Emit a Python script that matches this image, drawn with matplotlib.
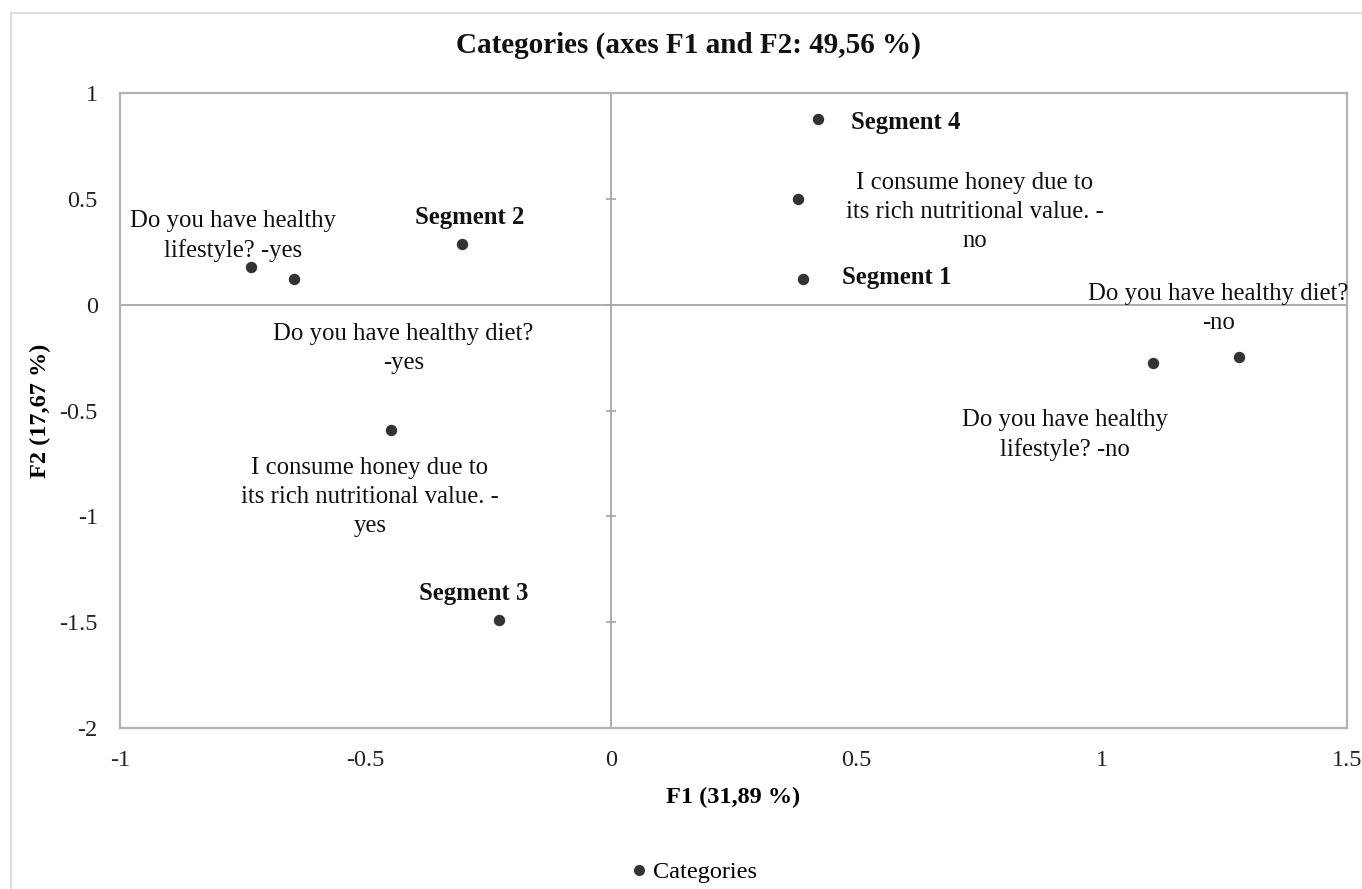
import matplotlib
matplotlib.use("Agg")
import matplotlib.pyplot as plt
from matplotlib.lines import Line2D

plt.rcParams['font.family'] = ['Liberation Serif', 'DejaVu Serif']

# ---- data ----
labels = [
    "Segment 4",
    "I consume honey due to\nits rich nutritional value. -\nno",
    "Segment 1",
    "Do you have healthy\nlifestyle? -no",
    "Do you have healthy diet?\n-no",
    "Do you have healthy\nlifestyle? -yes",
    "Do you have healthy diet?\n-yes",
    "Segment 2",
    "I consume honey due to\nits rich nutritional value. -\nyes",
    "Segment 3",
]
f1 = [0.422, 0.381, 0.391, 1.104, 1.279, -0.733, -0.645, -0.303, -0.448, -0.228]
f2 = [0.876, 0.498, 0.120, -0.277, -0.248, 0.177, 0.120, 0.286, -0.593, -1.490]
is_segment = [True, False, True, False, False, False, False, True, False, True]

x_ticks = [-1, -0.5, 0, 0.5, 1, 1.5]
y_ticks = [-2, -1.5, -1, -0.5, 0, 0.5, 1]
x_tick_labels = ["-1", "-0.5", "0", "0.5", "1", "1.5"]
y_tick_labels = ["-2", "-1.5", "-1", "-0.5", "0", "0.5", "1"]

title = "Categories (axes F1 and F2: 49,56 %)"
xlabel = "F1 (31,89 %)"
ylabel = "F2 (17,67 %)"
legend_label = "Categories"

# label offsets in pixels (dx, dy), horizontal alignment
offsets = [
    (33, -3, 'left'),
    (177, -13, 'center'),
    (39, 2, 'left'),
    (-88, -72, 'center'),
    (-20, 49, 'center'),
    (-18, 31, 'center'),
    (109, -69, 'center'),
    (8, 27, 'center'),
    (-21, -67, 'center'),
    (-25, 27, 'center'),
]

W, H = 1362, 889
fig = plt.figure(figsize=(W / 100, H / 100), dpi=100)
ax = fig.add_axes([120 / W, 1 - 728 / H, (1347 - 120) / W, (728 - 93) / H])

frame_col = '#b3b3b3'
zero_col = '#a6a6a6'
pt_col = '#333333'

ax.set_xlim(-1, 1.5)
ax.set_ylim(-2, 1)
ax.set_xticks(x_ticks)
ax.set_xticklabels(x_tick_labels)
ax.set_yticks(y_ticks)
ax.set_yticklabels(y_tick_labels)
ax.tick_params(axis='both', length=0, labelsize=17.5, colors='#222222')
ax.tick_params(axis='x', pad=16)
ax.tick_params(axis='y', pad=16)
for s in ax.spines.values():
    s.set_color(frame_col)
    s.set_linewidth(1.6)

ax.axhline(0, color=zero_col, lw=1.3, zorder=1)
ax.axvline(0, color=zero_col, lw=1.3, zorder=1)
# small tick marks on the vertical zero line
ax.plot([0] * len(y_ticks), y_ticks, linestyle='none', marker='_', ms=7,
        mew=1.2, color=zero_col, zorder=1, clip_on=False)

ax.scatter(f1, f2, s=52, color=pt_col, zorder=3, label=legend_label)

for lab, x, y, seg, (dx, dy, ha) in zip(labels, f1, f2, is_segment, offsets):
    ax.annotate(lab, (x, y), xytext=(dx, dy), textcoords='offset pixels',
                ha=ha, va='center', fontsize=17.8,
                fontweight='bold' if seg else 'normal',
                color='#111111', linespacing=1.4, zorder=4)

ax.set_xlabel(xlabel, fontsize=17.5, fontweight='bold')
ax.set_ylabel(ylabel, fontsize=17.5, fontweight='bold')
ax.xaxis.set_label_coords(0.5, (728 - 787) / (728 - 93))
ax.yaxis.set_label_coords((51 - 120) / (1347 - 120), 0.5)

fig.text(688 / W, 1 - 45 / H, title, ha='center', va='center',
         fontsize=21, fontweight='bold', color='#111111')

leg = fig.legend(handles=[Line2D([], [], marker='o', linestyle='none', ms=7,
                                 color=pt_col)],
                 labels=[legend_label], loc='center',
                 bbox_to_anchor=(692 / W, 1 - 872 / H), frameon=False,
                 fontsize=17.5, handletextpad=0.1, handlelength=1.0)

# outer light border (top and left visible)
border_col = '#d9d9d9'
fig.add_artist(Line2D([11 / W, 1], [1 - 13 / H, 1 - 13 / H], color=border_col,
                      lw=1.2, transform=fig.transFigure))
fig.add_artist(Line2D([11 / W, 11 / W], [0, 1 - 13 / H], color=border_col,
                      lw=1.2, transform=fig.transFigure))

fig.savefig('out.png', dpi=100, facecolor='white')
